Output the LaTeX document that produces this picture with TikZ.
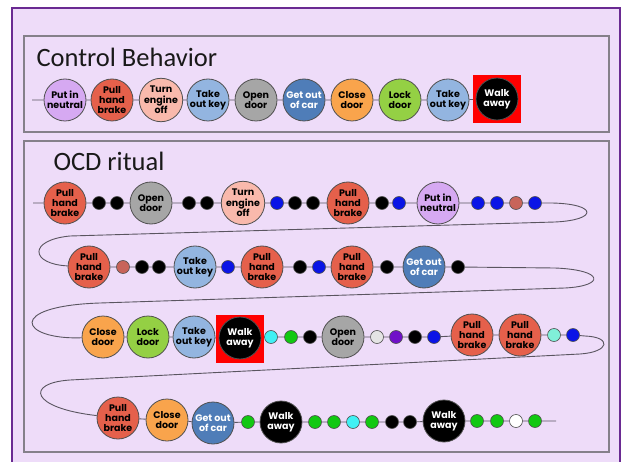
\documentclass[tikz,border=0pt]{standalone}
\usepackage{fontspec}
\setmainfont{Carlito}
\newfontfamily\beadfont{Poppins}
\definecolor{lavender}{HTML}{EEDCF9}
\definecolor{outerpurple}{HTML}{6A2A92}
\definecolor{framegray}{HTML}{85808A}
\definecolor{ring}{HTML}{505050}
\definecolor{threadgray}{HTML}{5A5560}
\definecolor{neutralc}{HTML}{D6A9F2}
\definecolor{brakec}{HTML}{E5604B}
\definecolor{enginec}{HTML}{F9B9AC}
\definecolor{keyc}{HTML}{93B5E0}
\definecolor{doorc}{HTML}{A6A6A6}
\definecolor{getoutc}{HTML}{4F7DB8}
\definecolor{closec}{HTML}{F9A44C}
\definecolor{lockc}{HTML}{94D044}
\definecolor{beadblue}{HTML}{0A14E6}
\definecolor{beadbrown}{HTML}{C8645A}
\definecolor{beadcyan}{HTML}{40F0F4}
\definecolor{beadgreen}{HTML}{12C812}
\definecolor{beadgray}{HTML}{E4E4E4}
\definecolor{beadpurple}{HTML}{7010C8}
\definecolor{beadaqua}{HTML}{80F0D8}
\begin{document}
\begin{tikzpicture}[x=1pt,y=-1pt,
  big/.style={circle,draw=ring,line width=0.8pt,minimum size=42pt,inner sep=0pt,align=center,
    font=\beadfont\bfseries\fontsize{9.5}{10.3}\selectfont},
  neutral/.style={big,fill=neutralc},
  brake/.style={big,fill=brakec},
  engine/.style={big,fill=enginec},
  key/.style={big,fill=keyc},
  opendoor/.style={big,fill=doorc},
  getout/.style={big,fill=getoutc,text=white},
  closedoor/.style={big,fill=closec},
  lockdoor/.style={big,fill=lockc},
  walk/.style={big,fill=black,text=white},
  walkbox/.style={fill=red,minimum size=48pt,inner sep=0pt},
  bead/.style={circle,draw=ring,line width=0.6pt,minimum size=13pt,inner sep=0pt},
  bk/.style={bead,fill=black},
  bl/.style={bead,fill=beadblue},
  br/.style={bead,fill=beadbrown},
  cy/.style={bead,fill=beadcyan},
  gr/.style={bead,fill=beadgreen},
  lg/.style={bead,fill=beadgray},
  pu/.style={bead,fill=beadpurple},
  aq/.style={bead,fill=beadaqua},
  wh/.style={bead,fill=white},
  thread/.style={draw=threadgray,line width=0.9pt},
  frame/.style={draw=framegray,line width=1.2pt,fill=lavender}]
\useasboundingbox (0,0) rectangle (623,462);
% frames
\draw[outerpurple,line width=2.5pt,fill=lavender] (12,8) rectangle (620,480);
\draw[frame] (24,36) rectangle (609,132);
\draw[frame] (24,141) rectangle (609,452);
\node[anchor=base west,font=\fontsize{26.5}{30}\selectfont,text=black!90] (title1) at (33,67) {Control Behavior};
\node[anchor=base west,font=\fontsize{26.5}{30}\selectfont,text=black!90] (title2) at (50,171) {OCD ritual};

% control behavior
\coordinate (cs) at (32,100);
\node[neutral] (c1) at (65,100) {Put in\\neutral};
\node[brake] (c2) at (112,100) {Pull\\hand\\brake};
\node[engine] (c3) at (161,100) {Turn\\engine\\off};
\node[key] (c4) at (208,100) {Take\\out key};
\node[opendoor] (c5) at (256,100) {Open\\door};
\node[getout] (c6) at (304,100) {Get out\\of car};
\node[closedoor] (c7) at (352,100) {Close\\door};
\node[lockdoor] (c8) at (400,100) {Lock\\door};
\node[key] (c9) at (448,100) {Take\\out key};
\node[walkbox] (c10sq) at (497,99) {};
\node[walk] (c10) at (497,99) {Walk\\away};
\draw[thread] (cs) -- (c1) -- (c2) -- (c3) -- (c4) -- (c5) -- (c6) -- (c7) -- (c8) -- (c9) -- (c10sq);

% ritual, row 1
\coordinate (r1s) at (33,203);
\node[brake] (r1-1) at (65,203) {Pull\\hand\\brake};
\node[bk] (r1-2) at (99,203) {};
\node[bk] (r1-3) at (117,203) {};
\node[opendoor] (r1-4) at (151,203) {Open\\door};
\node[bk] (r1-5) at (189,203) {};
\node[bk] (r1-6) at (207,203) {};
\node[engine] (r1-7) at (243,203) {Turn\\engine\\off};
\node[bl] (r1-8) at (277,203) {};
\node[bk] (r1-9) at (295,203) {};
\node[bk] (r1-10) at (313,203) {};
\node[brake] (r1-11) at (348,203) {Pull\\hand\\brake};
\node[bk] (r1-12) at (382,203) {};
\node[bl] (r1-13) at (399,203) {};
\node[neutral] (r1-14) at (438,203) {Put in\\neutral};
\node[bl] (r1-15) at (478,203) {};
\node[bl] (r1-16) at (497,203) {};
\node[br] (r1-17) at (516,203) {};
\node[bl] (r1-18) at (535,203) {};

% row 2
\node[brake] (r2-1) at (89,267) {Pull\\hand\\brake};
\node[br] (r2-2) at (123,267) {};
\node[bk] (r2-3) at (142,267) {};
\node[bk] (r2-4) at (159,267) {};
\node[key] (r2-5) at (195,267) {Take\\out key};
\node[bl] (r2-6) at (228,267) {};
\node[brake] (r2-7) at (262,267) {Pull\\hand\\brake};
\node[bk] (r2-8) at (300,267) {};
\node[bl] (r2-9) at (319,267) {};
\node[brake] (r2-10) at (352,267) {Pull\\hand\\brake};
\node[bk] (r2-11) at (387,267) {};
\node[getout] (r2-12) at (424,267) {Get out\\of car};
\node[bk] (r2-13) at (458,267) {};

% row 3
\node[closedoor] (r3-1) at (103,337) {Close\\door};
\node[lockdoor] (r3-2) at (148,337) {Lock\\door};
\node[key] (r3-3) at (194,337) {Take\\out key};
\node[walkbox] (r3-sq) at (240,339) {};
\node[walk] (r3-4) at (240,338) {Walk\\away};
\node[cy] (r3-5) at (271,337) {};
\node[gr] (r3-6) at (291,337) {};
\node[bk] (r3-7) at (310,337) {};
\node[opendoor] (r3-8) at (343,337) {Open\\door};
\node[lg] (r3-9) at (377,337) {};
\node[pu] (r3-10) at (396,337) {};
\node[bk] (r3-11) at (415,337) {};
\node[bl] (r3-12) at (434,337) {};
\node[brake] (r3-13) at (472,335) {Pull\\hand\\brake};
\node[brake] (r3-14) at (520,335) {Pull\\hand\\brake};
\node[aq] (r3-15) at (554,335) {};
\node[bl] (r3-16) at (573,335) {};

% row 4
\node[brake] (r4-1) at (118,418) {Pull\\hand\\brake};
\node[closedoor] (r4-2) at (167,420) {Close\\door};
\node[getout] (r4-3) at (213,423) {Get out\\of car};
\node[gr] (r4-4) at (248,422) {};
\node[walk] (r4-5) at (281,422) {Walk\\away};
\node[gr] (r4-6) at (315,422) {};
\node[gr] (r4-7) at (334,422) {};
\node[cy] (r4-8) at (353,422) {};
\node[gr] (r4-9) at (372,422) {};
\node[bk] (r4-10) at (392,422) {};
\node[bk] (r4-11) at (410,422) {};
\node[walk] (r4-12) at (444,421) {Walk\\away};
\node[gr] (r4-13) at (477,421) {};
\node[gr] (r4-14) at (497,421) {};
\node[wh] (r4-15) at (516,421) {};
\node[gr] (r4-16) at (535,421) {};
\coordinate (r4e) at (556,421);

% the thread
\draw[thread] (r1s) -- (r1-1) -- (r1-2) -- (r1-3) -- (r1-4) -- (r1-5) -- (r1-6) -- (r1-7) -- (r1-8) -- (r1-9)
  -- (r1-10) -- (r1-11) -- (r1-12) -- (r1-13) -- (r1-14) -- (r1-15) -- (r1-16) -- (r1-17) -- (r1-18)
  -- (552,203) .. controls (598,204) and (598,220) .. (555,222) -- (70,236)
  .. controls (28,240) and (30,264) .. (r2-1);
\draw[thread] (r2-1) -- (r2-2) -- (r2-3) -- (r2-4) -- (r2-5) -- (r2-6) -- (r2-7) -- (r2-8) -- (r2-9)
  -- (r2-10) -- (r2-11) -- (r2-12) -- (r2-13)
  -- (555,268) .. controls (605,270) and (605,286) .. (565,288) -- (100,303)
  .. controls (5,306) and (20,340) .. (r3-1);
\draw[thread] (r3-1) -- (r3-2) -- (r3-3) -- (r3-sq) -- (r3-5) -- (r3-6) -- (r3-7) -- (r3-8) -- (r3-9)
  -- (r3-10) -- (r3-11) -- (r3-12) -- (r3-13) -- (r3-14) -- (r3-15) -- (r3-16)
  -- (585,336) .. controls (612,337) and (610,352) .. (580,354) -- (70,380)
  .. controls (25,383) and (30,408) .. (r4-1);
\draw[thread] (r4-1) -- (r4-2) -- (r4-3) -- (r4-4) -- (r4-5) -- (r4-6) -- (r4-7) -- (r4-8) -- (r4-9)
  -- (r4-10) -- (r4-11) -- (r4-12) -- (r4-13) -- (r4-14) -- (r4-15) -- (r4-16) -- (r4e);
\end{tikzpicture}
\end{document}
